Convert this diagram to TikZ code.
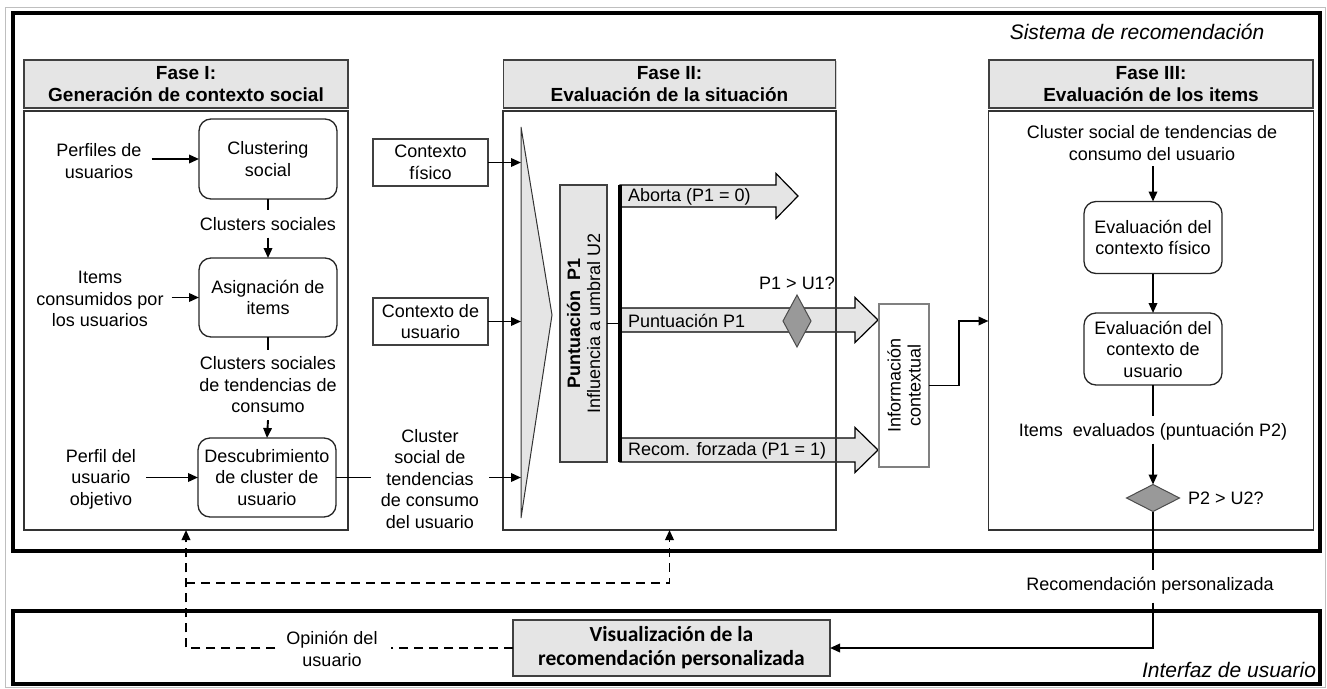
\documentclass[tikz,border=0pt]{standalone}
\usepackage{fontspec}
\setmainfont{Liberation Sans}
\newfontfamily\calfont{Carlito}
\usetikzlibrary{arrows.meta,shapes.geometric,shadows,calc}

% block arrow: x start, x head base, x tip, y centre, half shaft width
\newcommand\BlockArr[5]{%
  \draw[blockarr] (#1,#4-#5) -- (#2,#4-#5) -- (#2,#4-22.5) -- (#3,#4)
    -- (#2,#4+22.5) -- (#2,#4+#5) -- (#1,#4+#5) -- cycle;}

\begin{document}
\begin{tikzpicture}[x=1pt,y=-1pt,
  every node/.style={inner sep=0pt, outer sep=0pt, align=center,
    font=\fontsize{18}{21.5}\selectfont},
  lab/.style={outer sep=7pt},
  frame/.style={draw=black, line width=3.5pt},
  caption/.style={font=\fontsize{21}{24}\selectfont\itshape},
  phasehead/.style={draw=black!75, line width=1.4pt, fill=black!10,
    font=\fontsize{19}{22}\selectfont\bfseries, minimum height=48pt,
    drop shadow={shadow xshift=1.2pt, shadow yshift=-1.2pt, opacity=.35}},
  phasebody/.style={draw=black!80, line width=1.3pt},
  procbox/.style={draw=black!85, line width=1.3pt, rounded corners=12pt,
    minimum width=138pt},
  plainbox/.style={draw=black!75, line width=1.3pt},
  flow/.style={-{Triangle[length=10pt,width=8.5pt]}, line width=1.9pt},
  link/.style={line width=1.9pt},
  fb/.style={dash pattern=on 9pt off 6pt, line width=1.9pt},
  decision/.style={diamond, draw=black!70, fill=black!40, line width=1pt},
  blockarr/.style={draw=black, line width=1.2pt, fill=black!10},
]
\useasboundingbox (0,0) rectangle (1327,688);

% outer frames
\draw[black!25, line width=1pt] (5,7) rectangle (1325,687);
\draw[frame] (13,13) rectangle (1320,551);
\draw[frame] (13,611) rectangle (1320,684);
\node[caption] (sys) at (1137,32) {Sistema de recomendación};
\node[caption, anchor=east] (ui) at (1316,670) {Interfaz de usuario};

% phase frames
\node[phasehead, minimum width=324pt] (h1) at (186,84) {Fase I:\\Generación de contexto social};
\node[phasebody, minimum width=324pt, minimum height=419pt] (b1) at (186,320.5) {};
\node[phasehead, minimum width=332pt] (h2) at (669.5,84) {Fase II:\\Evaluación de la situación};
\node[phasebody, minimum width=333pt, minimum height=419pt] (b2) at (669.5,320.5) {};
\node[phasehead, minimum width=324pt] (h3) at (1151,84) {Fase III:\\Evaluación de los items};
\node[phasebody, minimum width=325pt, minimum height=419pt] (b3) at (1151,320.5) {};

% ---------- Fase I ----------
\node (perf) at (99,161) {Perfiles de\\usuarios};
\node[procbox, minimum height=80pt] (clu) at (268,159) {Clustering\\social};
\node[lab] (cs) at (268,224) {Clusters sociales};
\node (items) at (100,299) {Items\\consumidos por\\los usuarios};
\node[procbox, minimum height=79pt] (asig) at (268,297.5) {Asignación de\\items};
\node[lab] (cst) at (268,385) {Clusters sociales\\de tendencias de\\consumo};
\node (pobj) at (101,479) {Perfil del\\usuario\\objetivo};
\node[procbox, minimum height=79pt] (desc) at (267,477.5) {Descubrimiento\\de cluster de\\usuario};
\node (csu) at (430,479) {Cluster\\social de\\tendencias\\de consumo\\del usuario};

\draw[flow] ([xshift=10pt]perf.east |- clu.west) -- (clu.west);
\draw[link] (clu.south) -- (cs.north);
\draw[flow] (cs.south) -- (asig.north);
\draw[flow] ([xshift=8pt]items.east |- asig.west) -- (asig.west);
\draw[link] (asig.south) -- (cst.north);
\draw[flow] (cst.south) -- (desc.north);
\draw[flow] ([xshift=10pt]pobj.east |- desc.west) -- (desc.west);
\draw[link, shorten >=10pt] (desc.east) -- (desc.east -| csu.west);

% ---------- Fase II ----------
\node[plainbox, minimum width=115pt, minimum height=47pt] (cf) at (430.5,162.5) {Contexto\\físico};
\node[plainbox, minimum width=115pt, minimum height=47pt] (cu) at (430.5,321.5) {Contexto de\\usuario};

\coordinate (ftop) at (521,127);
\coordinate (ftip) at (552,315);
\coordinate (fbot) at (521,518);
\draw[black!80, line width=1pt, fill=black!10] (ftop) -- (ftip) -- (fbot) -- cycle;

\draw[flow] (cf.east) -- (cf.east -| ftop);
\draw[flow] (cu.east) -- (cu.east -| ftop);
\draw[flow, shorten <=10pt] (csu.east |- desc.east) -- (desc.east -| ftop);

\node[plainbox, fill=black!10, rotate=90, minimum width=277pt, minimum height=47pt,
  font=\fontsize{18}{20}\selectfont] (pbox) at (583.5,323.5)
  {\textbf{Puntuación~ P1}\\Influencia a umbral U2};

\BlockArr{620}{776}{798}{196}{11}
\BlockArr{620}{855}{878}{320}{12}
\BlockArr{620}{855}{878}{450}{12}
\node[anchor=west] (ab) at (628,197) {Aborta (P1 = 0)};
\node[anchor=west] (pp) at (628,321) {Puntuación P1};
\node[anchor=west] (rf) at (628,451) {Recom. forzada (P1 = 1)};

\coordinate (bartop) at (620,185);
\coordinate (barbot) at (620,462);
\draw[link] (pbox.south) -- (pbox.south -| bartop);
\draw[line width=4pt] (bartop) -- (barbot);

\node[decision, minimum width=28pt, minimum height=52pt] (d1) at (797,321) {};
\node (q1) at (797,283) {P1 > U1?};

% right edge of the phase frame stays visible over the arrows
\draw[phasebody] (b2.north east) -- (b2.south east);

\node[draw=black!50, line width=1.2pt, fill=white, rotate=90, minimum width=163pt,
  minimum height=50pt, font=\fontsize{18}{20}\selectfont] (info) at (904,385.5)
  {Información\\contextual};

\coordinate (jog) at (959,321);
\draw[flow] (info.south) -| (jog) -- (jog -| b3.west);

% ---------- Fase III ----------
\node[lab] (cst3) at (1152,143) {Cluster social de tendencias de\\consumo del usuario};
\node[procbox, minimum height=72pt] (ef) at (1153,237.5) {Evaluación del\\contexto físico};
\node[procbox, minimum height=72pt] (eu) at (1153,349) {Evaluación del\\contexto de\\usuario};
\node (ie) at (1153,432) {Items~ evaluados (puntuación P2)};
\node[decision, minimum width=53pt, minimum height=27pt] (d2) at (1153,498) {};
\node[anchor=west] (q2) at (1188,498) {P2 > U2?};

\draw[flow] (cst3.south) -- (cst3.south -| ef.north) -- (ef.north);
\draw[flow] (ef.south) -- (eu.north);
\draw[link, shorten >=8pt] (eu.south) -- (eu.south |- ie.north);
\draw[flow, shorten <=3pt] (ie.south -| d2.north) -- (d2.north);

% ---------- Interfaz de usuario ----------
\node (rp) at (1150,586) {Recomendación personalizada};
\node[draw=black!75, line width=1.4pt, fill=black!10, minimum width=317pt, minimum height=56pt,
  font=\fontsize{21.5}{24}\calfont\bfseries,
  drop shadow={shadow xshift=1.2pt, shadow yshift=-1.2pt, opacity=.35}] (vis) at (671.5,648)
  {Visualización de la\\recomendación personalizada};

\draw[link, shorten >=8pt] (d2.south) -- (d2.south |- rp.north);
\draw[flow, shorten <=8pt] (rp.south -| d2.south) |- (vis.east);

% user feedback (dashed)
\node (op) at (332,649) {Opinión del\\usuario};
\coordinate (fsplit) at (b1.south |- 0,583);
\draw[fb, shorten >=13pt] (vis.west) -- (vis.west -| op.east);
\draw[fb, -{Triangle[length=10pt,width=8.5pt]}, shorten <=11pt] (op.west |- vis.west) -| (b1.south);
\draw[fb, -{Triangle[length=10pt,width=8.5pt]}] (fsplit) -| (b2.south);
\end{tikzpicture}
\end{document}
